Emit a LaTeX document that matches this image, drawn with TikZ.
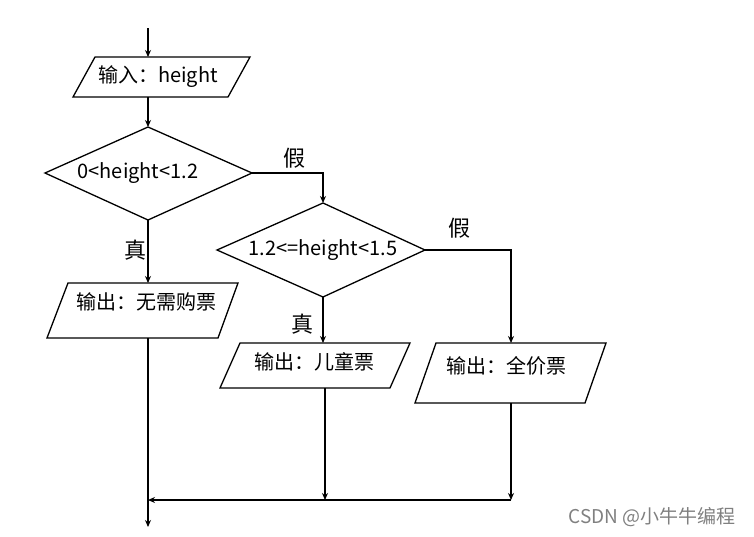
\documentclass[tikz,border=0pt]{standalone}
\usepackage{fontspec}
\setmainfont{Noto Sans CJK SC}
\usetikzlibrary{arrows.meta}
\begin{document}
\begin{tikzpicture}[x=1pt,y=-1pt,
  shp/.style={draw=black,line width=1.3pt,fill=white},
  con/.style={draw=black,line width=1.3pt},
  arr/.style={con,-{Stealth[length=7pt,width=6pt]}},
  txt/.style={font=\fontsize{20}{22}\selectfont,inner sep=0pt},
  lab/.style={font=\fontsize{22}{24}\selectfont,inner sep=0pt}]
\useasboundingbox (0,0) rectangle (754,536);
% shapes
\draw[shp] (73,97) -- (95,57) -- (250,57) -- (228,97) -- cycle;
\node[txt] (in) at (158,77) {输入：height};
\draw[shp] (148,127) -- (252,173) -- (148,220) -- (45,173) -- cycle;
\node[txt] (d1) at (138,173) {0<height<1.2};
\coordinate (d1t) at (148,127); \coordinate (d1r) at (252,173); \coordinate (d1b) at (148,220);
\draw[shp] (323,203) -- (425,250) -- (323,297) -- (217,250) -- cycle;
\node[txt] (d2) at (323,250) {1.2<=height<1.5};
\coordinate (d2t) at (323,203); \coordinate (d2r) at (425,250); \coordinate (d2b) at (323,297);
\draw[shp] (68,283) -- (238,283) -- (218,338) -- (47,338) -- cycle;
\node[txt] (o1) at (146,302) {输出：无需购票};
\draw[shp] (240,343) -- (410,343) -- (390,388) -- (220,388) -- cycle;
\node[txt] (o2) at (314,362) {输出：儿童票};
\draw[shp] (436,343) -- (606,343) -- (585,403) -- (415,403) -- cycle;
\node[txt] (o3) at (506,366) {输出：全价票};
% connectors
\coordinate (top) at (148,28);
\draw[arr] (top) -- (148,57);
\draw[arr] (148,97) -- (d1t);
\draw[arr] (d1r) -- (323,173) -- (d2t);
\draw[arr] (d1b) -- (148,283);
\draw[arr] (d2b) -- (323,343);
\draw[arr] (d2r) -- (511,250) -- (511,343);
\coordinate (jl) at (148,500); \coordinate (jm) at (325,500); \coordinate (jr) at (511,500);
\coordinate (end) at (148,527);
\draw[arr] (148,338) -- (end);
\draw[arr] (325,388) -- (jm);
\draw[arr] (511,403) -- (jr);
\draw[arr] (jr) -- (jl);
% labels
\node[lab] at (294,158) {假};
\node[lab] at (459,228) {假};
\node[lab] at (135,250) {真};
\node[lab] at (302,324) {真};
\node[font=\fontsize{19}{21}\selectfont,text=gray,inner sep=0pt] (wm) at (652,517) {CSDN @小牛牛编程};
\end{tikzpicture}
\end{document}
